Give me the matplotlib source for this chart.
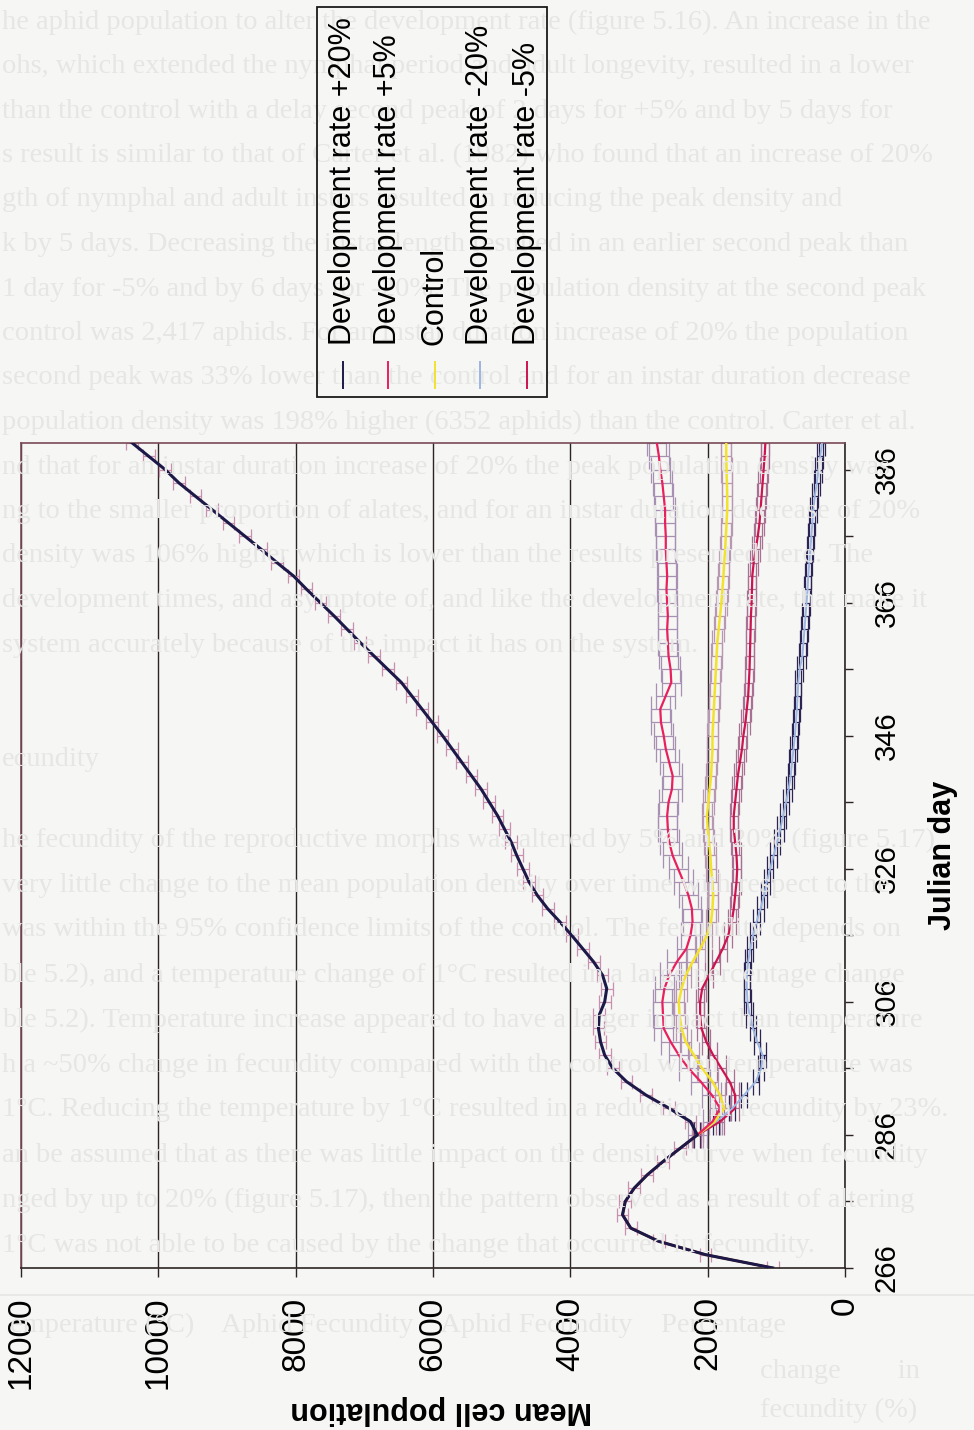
import numpy as np
import matplotlib.pyplot as plt
from matplotlib.patches import Rectangle
from matplotlib.lines import Line2D

plt.rcParams['font.family'] = ['Liberation Sans', 'DejaVu Sans']

W, H = 974, 1430

# julian days, every second day
days = np.arange(266, 391, 2)

# first peak, identical for all runs (days 266-284)
early = [1050, 2030, 2710, 3120, 3240, 3200, 3070, 2880, 2650, 2400]

# mean cell population from day 286 onwards
plus20 = [2150, 2250, 2560, 2900, 3180, 3380, 3500, 3560, 3590, 3580,
          3500, 3470, 3530, 3660, 3820, 3980, 4150, 4330, 4480, 4600,
          4690, 4780, 4860, 4960, 5060, 5180, 5300, 5440, 5580, 5720,
          5860, 6010, 6160, 6310, 6460, 6660, 6860, 7060, 7250, 7440,
          7640, 7840, 8030, 8270, 8500, 8740, 8980, 9220, 9460, 9700,
          9900, 10140, 10380]
plus5 = [2150, 1930, 1820, 1940, 2100, 2280, 2420, 2540, 2640, 2650,
         2660, 2630, 2560, 2450, 2310, 2250, 2220, 2230, 2280, 2350,
         2430, 2510, 2560, 2580, 2590, 2570, 2520, 2510, 2560, 2610,
         2640, 2680, 2690, 2610, 2530, 2540, 2570, 2580, 2590, 2580,
         2590, 2600, 2590, 2600, 2610, 2610, 2620, 2620, 2640, 2660,
         2690, 2710, 2740]
control = [2150, 1900, 1760, 1820, 1930, 2080, 2200, 2320, 2380, 2410,
           2420, 2380, 2320, 2220, 2110, 2010, 1950, 1930, 1920, 1930,
           1950, 1960, 1980, 2000, 2010, 1990, 1970, 1950, 1940, 1930,
           1930, 1920, 1910, 1900, 1890, 1880, 1870, 1860, 1840, 1820,
           1800, 1785, 1770, 1760, 1745, 1735, 1725, 1715, 1715, 1720,
           1725, 1730, 1730]
minus20 = [2150, 1880, 1640, 1470, 1300, 1220, 1200, 1280, 1340, 1390,
           1420, 1430, 1430, 1410, 1380, 1340, 1290, 1230, 1180, 1140,
           1090, 1040, 990, 940, 900, 860, 820, 790, 770, 750,
           730, 715, 700, 690, 680, 660, 620, 605, 590, 575,
           560, 545, 535, 520, 505, 490, 475, 460, 440, 410,
           385, 360, 335]
minus5 = [2150, 1820, 1600, 1600, 1680, 1800, 1920, 2020, 2090, 2110,
          2110, 2080, 1980, 1880, 1780, 1700, 1650, 1620, 1600, 1580,
          1570, 1580, 1600, 1620, 1620, 1600, 1580, 1560, 1530, 1500,
          1480, 1450, 1430, 1410, 1400, 1390, 1385, 1380, 1375, 1370,
          1360, 1355, 1350, 1330, 1300, 1270, 1245, 1230, 1215, 1200,
          1185, 1170, 1160]

labels = ['Development rate +20%', 'Development rate +5%', 'Control',
          'Development rate -20%', 'Development rate -5%']
line_colors = ['#1c1848', '#e8205e', '#f2e22e', '#9cb6e2', '#cc1450']
err_colors = ['#c890ae', '#a890b4', '#b898b0', '#2e2454', '#a87092']
# half width of the 95% confidence limits
ci = [85, 140, 75, 45, 60]
cap_sizes = [5, 9.6, 9.6, 9.6, 9.6]
line_widths = [2.2, 1.6, 1.8, 1.4, 1.6]

series = [plus20, plus5, control, minus20, minus5]

# faint text of the page underneath
page_lines = [
    "he aphid population to alter the development rate (figure 5.16). An increase in the",
    "ohs, which extended the nymphal period and adult longevity, resulted in a lower",
    "than the control with a delay second peak of 2 days for +5% and by 5 days for",
    "s result is similar to that of Carter et al. (1982) who found that an increase of 20%",
    "gth of nymphal and adult instars resulted in reducing the peak density and",
    "k by 5 days. Decreasing the instar length resulted in an earlier second peak than",
    "1 day for -5% and by 6 days for -20%. The population density at the second peak",
    "control was 2,417 aphids. For an instar duration increase of 20% the population",
    "second peak was 33% lower than the control and for an instar duration decrease",
    "population density was 198% higher (6352 aphids) than the control. Carter et al.",
    "nd that for an instar duration increase of 20% the peak population density was",
    "ng to the smaller proportion of alates, and for an instar duration decrease of 20%",
    "density was 106% higher which is lower than the results presented here. The",
    "development times, and asymptote of, and like the development rate, that make it",
    "system accurately because of the impact it has on the system.",
]
page_lines2 = [
    "he fecundity of the reproductive morphs was altered by 5% and 20% (figure 5.17).",
    "very little change to the mean population density over time with respect to the",
    "was within the 95% confidence limits of the control. The fecundity depends on",
    "ble 5.2), and a temperature change of 1°C resulted in a large percentage change",
    "ble 5.2). Temperature increase appeared to have a larger impact than temperature",
    "h a ~50% change in fecundity compared with the control when temperature was",
    "1°C. Reducing the temperature by 1°C resulted in a reduction in fecundity by 23%.",
    "an be assumed that as there was little impact on the density curve when fecundity",
    "nged by up to 20% (figure 5.17), then the pattern observed as a result of altering",
    "1°C was not able to be caused by the change that occurred in fecundity.",
]

fig = plt.figure(figsize=(W / 100, H / 100), dpi=100, facecolor='#f6f6f4')

faint = dict(fontfamily='Liberation Serif', fontsize=20.5, color='#e6e6e4',
             va='center', ha='left', zorder=0)
for i, s in enumerate(page_lines):
    fig.text(2 / W, 1 - (22 + 44.5 * i) / H, s, **faint)
fig.text(2 / W, 1 - 760 / H, "ecundity", **faint)
for i, s in enumerate(page_lines2):
    fig.text(2 / W, 1 - (840 + 45 * i) / H, s, **faint)
fig.add_artist(Line2D([0, 1], [1 - 1295 / H, 1 - 1295 / H], transform=fig.transFigure,
                      color='#e6e6e4', lw=1.2, zorder=0))
fig.text(10 / W, 1 - 1325 / H,
         "emperature (°C)    Aphid Fecundity    Aphid Fecundity    Percentage", **faint)
fig.text(760 / W, 1 - 1372 / H, "change        in", **faint)
fig.text(760 / W, 1 - 1410 / H, "fecundity (%)", **faint)

ax = fig.add_axes([21 / W, 1 - 1268 / H, 824 / W, 825 / H])
ax.set_facecolor('none')

n_early = len(early)
for k, (vals, ec, e, cs) in enumerate(zip(series, err_colors, ci, cap_sizes)):
    pop = np.array(early + vals)
    # runs only split after the crossing, so the shared first peak keeps
    # just the +20% limits
    start = 0 if k == 0 else n_early
    ax.errorbar(pop[start:], days[start:], xerr=e, fmt='none', ecolor=ec,
                elinewidth=0.9, capsize=cs, capthick=0.9, zorder=2)
for vals, lc, lw in zip(series[::-1], line_colors[::-1], line_widths[::-1]):
    pop = np.array(early + vals)
    ax.plot(pop, days, color=lc, lw=lw, zorder=3)

ax.set_xlim(12000, 0)
ax.set_ylim(266, 390)
ax.set_xticks(np.arange(0, 12001, 2000))
ax.grid(axis='x', color='#2c2424', lw=1.0, zorder=1)
ax.yaxis.tick_right()
ax.set_yticks(np.arange(266, 391, 20))
ax.set_yticks(np.arange(276, 391, 20), minor=True)
ax.tick_params(axis='x', direction='out', length=6.5, width=1.0, pad=14,
               labelsize=24, labelrotation=90, color='#2c2424')
ax.tick_params(axis='y', which='both', direction='out', length=6, width=1.0,
               pad=14, labelsize=21, labelrotation=90, color='#2c2424')
for lab in ax.get_yticklabels():
    lab.set_va('center')

for side in ['left', 'top']:
    ax.spines[side].set_color('#7a4a58')
for side in ['bottom', 'right']:
    ax.spines[side].set_color('#2c2424')
for sp in ax.spines.values():
    sp.set_linewidth(1.2)

fig.text(943 / W, 1 - 855 / H, 'Julian day', rotation=90, fontsize=22,
         fontweight='bold', ha='center', va='center')
fig.text(441 / W, 1 - 1410 / H, 'Mean cell population', rotation=180,
         fontsize=22, fontweight='bold', ha='center', va='center')

# legend box drawn sideways
fig.add_artist(Rectangle((317 / W, 1 - 397 / H), 230 / W, 390 / H,
                         transform=fig.transFigure, facecolor='none',
                         edgecolor='#1a1a1a', lw=1.3, zorder=4))
legend_x = [343, 388, 435, 480, 527]
for x, lab, col in zip(legend_x, labels, line_colors):
    fig.add_artist(Line2D([x / W, x / W], [1 - 388 / H, 1 - 362 / H],
                          transform=fig.transFigure, color=col, lw=1.4, zorder=5))
    fig.text(x / W, 1 - 345 / H, lab, rotation=90, fontsize=22,
             ha='center', va='bottom', zorder=5)

fig.savefig('out.png', dpi=100, facecolor=fig.get_facecolor())
